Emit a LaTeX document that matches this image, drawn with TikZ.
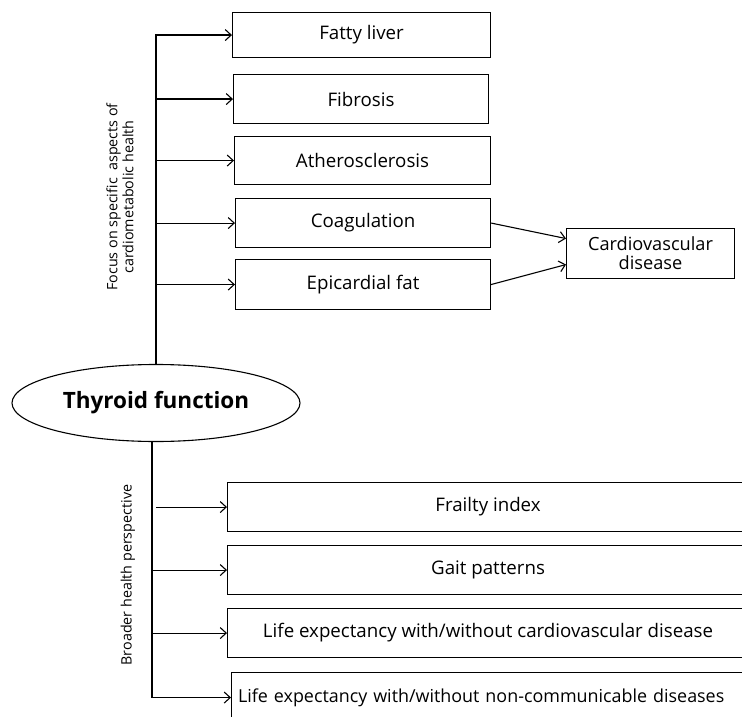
\documentclass[tikz,border=0pt]{standalone}
\usepackage{fontspec}
\setmainfont{Open Sans}
\usetikzlibrary{shapes.geometric,arrows.meta}
\begin{document}
\begin{tikzpicture}[x=1pt,y=-1pt,
  box/.style={draw, line width=1.1pt, inner sep=0pt, anchor=north west, font=\fontsize{18.7}{22}\selectfont},
  arr/.style={line width=1.1pt, -{Straight Barb[length=6pt,width=11pt]}},
  ln/.style={line width=1.1pt},
  side/.style={rotate=90, align=center, font=\fontsize{14.3}{16}\selectfont}]
\useasboundingbox (0,0) rectangle (742,717);
% upper boxes
\node[box, minimum width=258pt, minimum height=45pt] (fl) at (232,12) {Fatty liver};
\node[box, minimum width=255pt, minimum height=49pt] (fib) at (233,74) {Fibrosis};
\node[box, minimum width=256pt, minimum height=48pt] (ath) at (234,136) {Atherosclerosis};
\node[box, minimum width=255pt, minimum height=49pt] (coag) at (235,198) {Coagulation};
\node[box, minimum width=255pt, minimum height=50pt] (epi) at (235,259) {Epicardial fat};
\node[box, minimum width=168pt, minimum height=50pt, align=center, font=\fontsize{18.2}{19}\selectfont] (cvd) at (566,228) {Cardiovascular\\disease};
% lower boxes
\node[box, minimum width=521pt, minimum height=49pt] (fr) at (227,482) {Frailty index};
\node[box, minimum width=521pt, minimum height=49pt] (gait) at (227,545) {Gait patterns};
\node[box, minimum width=521pt, minimum height=49pt] (lcvd) at (227,608) {Life expectancy with/without cardiovascular disease};
\node[box, minimum width=530pt, minimum height=50pt, text width=525pt, align=left, font=\fontsize{17.9}{22}\selectfont] (ncd) at (231,672) {\hspace*{4pt}Life expectancy with/without non-communicable diseases};
% central ellipse
\node[draw, ellipse, line width=1.1pt, minimum width=288pt, minimum height=77pt, inner sep=0pt, font=\fontsize{22.5}{26}\selectfont\bfseries] (th) at (156,403) {Thyroid function};
% upper tree
\draw[arr] (th.north) |- (fl.west);
\coordinate (u) at (th.north);
\draw[arr] (u |- fib.west) -- (fib.west);
\draw[arr] (u |- ath.west) -- (ath.west);
\draw[arr] (u |- coag.west) -- (coag.west);
\draw[arr] (u |- epi.west) -- (epi.west);
\draw[arr] (coag.east) -- ([yshift=15pt]cvd.west);
\draw[arr] (epi.east) -- ([yshift=-11pt]cvd.west);
% lower tree
\coordinate (b) at ([xshift=-4pt]th.south);
\draw[arr] (b) |- (ncd.west);
\draw[arr] ([xshift=4pt]b |- fr.west) -- (fr.west);
\draw[arr] (b |- gait.west) -- (gait.west);
\draw[arr] (b |- lcvd.west) -- (lcvd.west);
% side labels
\node[side] (lab1) at (120,197) {Focus on specific\ \ aspects of\\cardiometabolic health};
\node[side] (lab2) at (128,575) {Broader health perspective};
\end{tikzpicture}
\end{document}
